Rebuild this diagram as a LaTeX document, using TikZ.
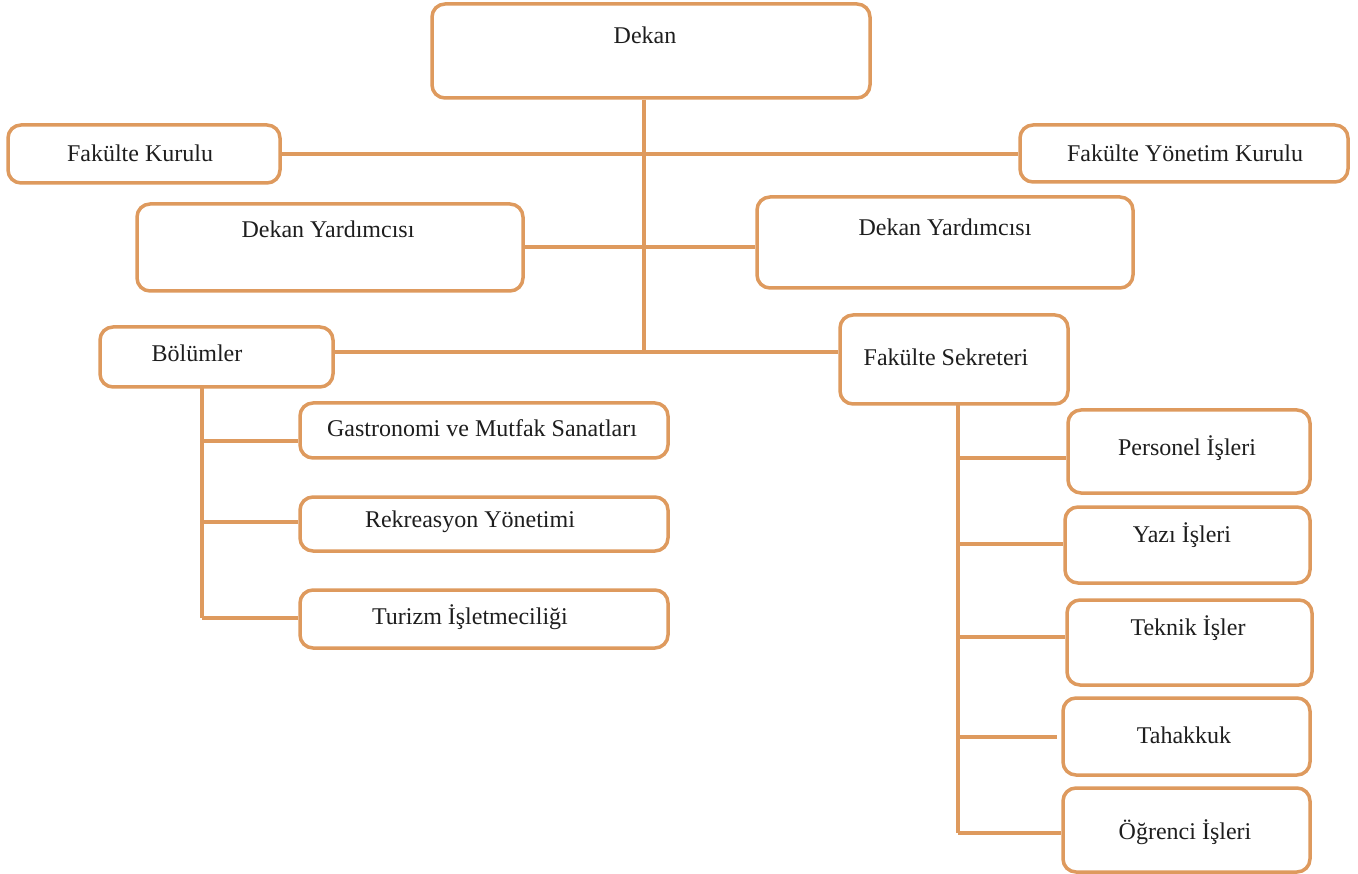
\documentclass[tikz,border=0pt]{standalone}
\usepackage{fontspec}
\setmainfont{Liberation Serif}
\definecolor{org}{RGB}{222,154,94}
\definecolor{txt}{RGB}{30,30,30}
\tikzset{
  box/.style={draw=org, line width=3.5pt, rounded corners=13pt, fill=white, inner sep=0pt},
  lbl/.style={text=txt, font=\fontsize{24}{28}\selectfont, inner sep=0pt, anchor=center},
  link/.style={draw=org, line width=4pt}
}
\newcommand{\bx}[5]{\node[box, minimum width={#4-#2}, minimum height={#5-#3}] (#1) at ({(#2+#4)/2},{(#3+#5)/2}) {};}
\begin{document}
\begin{tikzpicture}[x=1pt,y=-1pt]
\fill[white] (0,0) rectangle (1358,874);
\useasboundingbox (0,0) rectangle (1358,874);

\coordinate (j1) at (644,352);
\coordinate (bv) at (202,387);
\coordinate (fv) at (958,404);

% boxes
\bx{dekan}{432}{4}{870}{98}
\bx{fk}{8}{125}{280}{183}
\bx{fyk}{1020}{125}{1348}{182}
\bx{dyl}{137}{204}{523}{291}
\bx{dyr}{757}{197}{1133}{288}
\bx{bol}{100}{327}{333}{387}
\bx{fs}{840}{315}{1068}{404}
\bx{gas}{300}{403}{668}{458}
\bx{rek}{300}{497}{668}{551}
\bx{tur}{300}{590}{668}{648}
\bx{per}{1068}{410}{1310}{493}
\bx{yaz}{1065}{507}{1310}{583}
\bx{tek}{1067}{600}{1312}{685}
\bx{tah}{1063}{698}{1310}{775}
\bx{ogr}{1063}{788}{1310}{872}

% connectors
\draw[link] (dekan.south -| j1) -- (j1);
\draw[link] (fk.east) -- (fk.east -| fyk.west);
\draw[link] (dyl.east) -- (dyl.east -| dyr.west);
\draw[link] (bol.east |- j1) -- (fs.west |- j1);
\draw[link] (bv) -- (bv |- 0,618);
\draw[link] (bv |- 0,441) -- (gas.west |- 0,441);
\draw[link] (bv |- 0,522) -- (rek.west |- 0,522);
\draw[link] (bv |- 0,618) -- (tur.west |- 0,618);
\draw[link] (fv) -- (fv |- 0,833);
\draw[link] (fv |- 0,458) -- (per.west |- 0,458);
\draw[link] (fv |- 0,544) -- (yaz.west |- 0,544);
\draw[link] (fv |- 0,637) -- (tek.west |- 0,637);
\coordinate (tahend) at (1057,737);
\draw[link] (fv |- tahend) -- (tahend);
\draw[link] (fv |- 0,833) -- (ogr.west |- 0,833);

% labels
\node[lbl] (dekan-t) at (645,35) {Dekan};
\node[lbl] (fk-t) at (140,153) {Fakülte Kurulu};
\node[lbl] (fyk-t) at (1185,153) {Fakülte Yönetim Kurulu};
\node[lbl] (dyl-t) at (328,229) {Dekan Yardımcısı};
\node[lbl] (dyr-t) at (945,227) {Dekan Yardımcısı};
\node[lbl] (bol-t) at (197,353) {Bölümler};
\node[lbl] (fs-t) at (946,357) {Fakülte Sekreteri};
\node[lbl] (gas-t) at (482,428) {Gastronomi ve Mutfak Sanatları};
\node[lbl] (rek-t) at (470,522) {Rekreasyon Yönetimi};
\node[lbl] (tur-t) at (470,617) {Turizm İşletmeciliği};
\node[lbl] (per-t) at (1187,448) {Personel İşleri};
\node[lbl] (yaz-t) at (1182,535) {Yazı İşleri};
\node[lbl] (tek-t) at (1188,628) {Teknik İşler};
\node[lbl] (tah-t) at (1184,735) {Tahakkuk};
\node[lbl] (ogr-t) at (1185,832) {Öğrenci İşleri};
\end{tikzpicture}
\end{document}
